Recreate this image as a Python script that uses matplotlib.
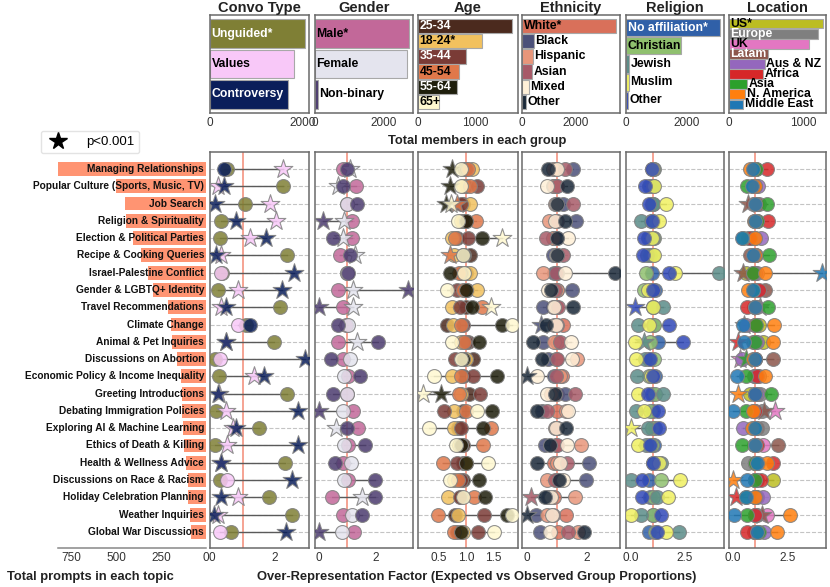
import matplotlib
matplotlib.use('Agg')
import matplotlib.pyplot as plt
from matplotlib.lines import Line2D

plt.rcParams['font.family'] = ['Liberation Sans', 'DejaVu Sans']

# ---------------- data ----------------
topics = ['Managing Relationships', 'Popular Culture (Sports, Music, TV)', 'Job Search',
          'Religion & Spirituality', 'Election & Political Parties', 'Recipe & Cooking Queries',
          'Israel-Palestine Conflict', 'Gender & LGBTQ+ Identity', 'Travel Recommendations',
          'Climate Change', 'Animal & Pet Inquiries', 'Discussions on Abortion',
          'Economic Policy & Income Inequality', 'Greeting Introductions',
          'Debating Immigration Policies', 'Exploring AI & Machine Learning',
          'Ethics of Death & Killing', 'Health & Wellness Advice', 'Discussions on Race & Racism',
          'Holiday Celebration Planning', 'Weather Inquiries', 'Global War Discussions']
prompt_counts = [822, 500, 450, 444, 405, 361, 322, 294, 211, 194, 189, 161, 139, 133, 133,
                 128, 122, 111, 100, 100, 89, 83]

# Convo type
convo_labels = ['Unguided*', 'Values', 'Controversy']
convo_counts = [2040, 1800, 1670]
convo_unguided = [0.49, 2.27, 1.06, 0.30, 0.26, 2.40, 0.32, 0.20, 2.16, 1.08, 1.98, 0.10, 0.23,
                  2.40, 0.14, 1.50, 0.10, 2.32, 0.26, 1.82, 2.57, 0.62]
convo_values = [2.27, 0.20, 1.84, 2.06, 1.22, 0.30, 0.30, 0.82, 0.28, 0.82, 0.46, 0.25, 1.33,
                0.22, 0.44, 0.68, 0.49, 0.28, 0.49, 0.82, 0.20, 0.25]
convo_controversy = [0.39, 0.39, 0.10, 0.78, 1.73, 0.13, 2.61, 2.25, 0.44, 1.22, 0.45, 2.97,
                     1.65, 0.18, 2.75, 0.78, 2.75, 0.28, 2.57, 0.28, 0.06, 2.35]
convo_sig = [[], [0, 1, 2, 3, 4, 5, 7, 8, 10, 12, 13, 14, 15, 16, 17, 19, 20],
             [1, 2, 3, 4, 5, 6, 7, 8, 10, 11, 12, 13, 14, 15, 16, 17, 18, 19, 20, 21]]

# Gender
gender_labels = ['Male*', 'Female', 'Non-binary']
gender_counts = [2725, 2670, 90]
gender_male = [0.85, 1.30, 1.00, 1.15, 1.15, 0.74, 1.00, 0.67, 0.84, 0.95, 0.67, 0.84, 1.02,
               1.00, 1.20, 1.38, 1.02, 0.84, 1.02, 0.46, 0.84, 1.22]
gender_female = [1.10, 0.67, 0.98, 0.89, 0.84, 1.26, 1.00, 1.20, 1.20, 1.02, 1.33, 1.09, 0.89,
                 1.00, 0.84, 0.60, 0.89, 1.12, 0.89, 1.50, 1.15, 0.80]
gender_nonbinary = [1.00, 0.84, 1.33, 0.13, 0.48, 1.09, 1.02, 3.12, 0.00, 0.67, 2.07, 0.42,
                    1.44, 0.48, 0.00, 1.00, 1.61, 0.56, 1.96, 1.96, 1.51, 0.00]
gender_sig = [[], [0, 1, 3, 4, 5, 7, 8, 10, 15, 19], [3, 7, 8, 14, 21]]

# Age
age_labels = ['25-34', '18-24*', '35-44', '45-54', '55-64', '65+']
age_counts = [1650, 1120, 840, 720, 680, 370]
age_25_34 = [0.97, 1.00, 0.95, 0.95, 0.84, 1.07, 1.00, 1.01, 1.00, 0.65, 1.04, 1.13, 0.95, 1.06,
             0.95, 0.85, 0.95, 0.95, 0.95, 0.90, 0.80, 0.84]
age_18_24 = [1.10, 0.95, 1.07, 0.90, 0.75, 0.78, 1.07, 1.20, 0.75, 0.76, 0.91, 1.00, 0.75, 0.90,
             0.78, 0.78, 0.87, 1.00, 0.78, 0.67, 0.85, 0.95]
age_35_44 = [1.00, 1.20, 0.90, 1.00, 1.04, 0.95, 0.90, 0.84, 0.89, 0.95, 1.00, 0.80, 1.13, 1.25,
             0.60, 0.91, 0.90, 0.84, 0.90, 0.89, 1.33, 1.22]
age_45_54 = [1.03, 1.07, 0.84, 1.18, 0.80, 0.71, 0.88, 0.95, 1.29, 0.90, 0.97, 0.93, 0.90, 0.88,
             1.00, 1.45, 1.31, 0.58, 0.85, 1.15, 0.49, 0.78]
age_55_64 = [0.75, 0.71, 0.64, 1.00, 1.29, 0.97, 0.71, 1.00, 1.11, 1.65, 1.24, 0.95, 1.56, 0.55,
             1.47, 1.31, 0.91, 1.00, 1.24, 1.35, 1.75, 0.90]
age_65 = [0.90, 0.91, 0.73, 0.85, 1.66, 0.95, 0.96, 0.65, 1.45, 1.83, 0.75, 0.90, 0.42, 0.22,
          1.20, 0.33, 0.82, 1.40, 0.71, 0.95, 1.83, 1.51]
age_sig = [[], [], [], [2, 5], [0, 1, 2, 13], [2, 4, 8, 13]]

# Ethnicity
eth_labels = ['White*', 'Black', 'Hispanic', 'Asian', 'Mixed', 'Other']
eth_counts = [3480, 440, 410, 370, 260, 150]
eth_white = [0.97, 0.95, 1.00, 0.95, 0.90, 1.00, 1.00, 1.00, 0.85, 1.20, 1.00, 0.95, 1.17, 1.00,
             1.00, 1.00, 0.95, 0.90, 1.00, 0.90, 1.30, 1.03]
eth_black = [1.53, 0.85, 1.20, 1.63, 1.00, 0.87, 0.90, 1.50, 0.53, 0.47, 0.53, 0.70, 0.90, 1.27,
             0.50, 1.00, 0.60, 2.07, 1.97, 0.70, 0.30, 0.43]
eth_hispanic = [0.85, 0.90, 0.93, 0.73, 0.87, 1.00, 0.53, 1.00, 0.95, 0.90, 0.90, 1.67, 1.10,
                0.80, 1.30, 0.93, 1.80, 1.00, 0.67, 1.60, 0.67, 1.70]
eth_asian = [1.27, 1.00, 1.53, 1.00, 0.63, 1.20, 0.95, 0.93, 1.03, 1.00, 1.10, 1.00, 0.95, 1.60,
             0.67, 0.95, 1.00, 1.33, 0.93, 0.13, 0.85, 1.37]
eth_mixed = [1.00, 0.67, 0.95, 0.93, 1.37, 0.95, 1.27, 0.70, 0.90, 0.95, 1.47, 1.50, 0.33, 0.67,
             1.37, 0.95, 1.33, 1.10, 1.20, 0.80, 0.83, 0.77]
eth_other = [0.70, 1.33, 1.00, 1.27, 1.00, 1.00, 2.93, 0.80, 1.53, 0.63, 0.20, 0.50, 0.00, 0.93,
             0.33, 1.30, 0.77, 0.33, 1.05, 0.60, 0.00, 1.90]
eth_sig = [[], [9], [], [19], [], [12, 20]]

# Religion
rel_labels = ['No affiliation*', 'Christian', 'Jewish', 'Muslim', 'Other']
rel_counts = [3100, 1800, 100, 100, 70]
rel_none = [0.95, 0.85, 0.95, 0.93, 0.80, 0.90, 0.97, 1.10, 1.00, 1.00, 1.24, 0.85, 1.10, 0.95,
            1.00, 1.10, 1.05, 1.00, 0.85, 0.90, 1.00, 0.85]
rel_christian = [1.00, 1.00, 1.00, 1.00, 1.05, 1.00, 0.69, 0.60, 1.00, 1.05, 0.90, 1.05, 0.83,
                 1.10, 0.90, 0.97, 0.95, 1.10, 1.37, 1.00, 1.00, 1.10]
rel_jewish = [1.05, 1.00, 1.00, 0.46, 1.00, 0.75, 4.07, 0.93, 1.47, 0.33, 0.60, 0.67, 0.28, 1.47,
              0.24, 0.80, 0.70, 1.40, 0.00, 1.20, 0.45, 2.22]
rel_muslim = [1.00, 1.05, 1.62, 1.30, 0.97, 1.05, 2.04, 0.80, 1.00, 0.85, 0.19, 0.22, 0.93, 0.32,
              0.60, 0.00, 0.34, 1.30, 2.27, 1.70, 0.00, 1.60]
rel_other = [0.97, 0.65, 0.83, 0.95, 0.60, 0.56, 1.77, 1.00, 0.19, 1.76, 2.40, 0.90, 1.00, 0.80,
             1.24, 1.30, 0.90, 1.00, 0.52, 0.52, 1.37, 1.20]
rel_sig = [[], [], [10], [15], [8]]

# Location
loc_labels = ['US*', 'Europe', 'UK', 'Latam', 'Aus & NZ', 'Africa', 'Asia', 'N. America',
              'Middle East']
loc_counts = [1270, 1200, 1080, 530, 480, 460, 240, 220, 190]
loc_us = [1.00, 1.00, 1.10, 1.00, 0.80, 1.00, 0.60, 1.00, 1.00, 1.20, 1.36, 1.00, 0.95, 0.77,
          1.00, 1.00, 0.95, 1.00, 1.82, 1.00, 1.00, 0.95]
loc_europe = [1.00, 0.90, 1.20, 1.10, 1.00, 1.05, 1.00, 1.00, 1.23, 0.50, 1.00, 1.00, 1.10, 1.23,
              1.30, 1.30, 1.00, 0.68, 1.00, 1.00, 1.10, 1.00]
loc_uk = [0.90, 0.95, 0.90, 1.05, 0.90, 0.95, 1.10, 1.00, 0.95, 1.00, 1.00, 0.32, 1.20, 1.00,
          1.91, 1.00, 1.36, 1.00, 1.00, 1.00, 1.55, 1.10]
loc_latam = [0.95, 1.00, 0.68, 1.00, 0.70, 0.77, 0.45, 1.45, 1.00, 1.00, 0.90, 1.82, 1.00, 1.00,
             1.41, 1.10, 2.05, 1.00, 1.10, 1.10, 1.30, 1.00]
loc_ausnz = [1.05, 1.14, 1.00, 1.10, 1.27, 1.00, 1.00, 1.10, 1.10, 0.60, 1.10, 0.40, 1.00, 1.10,
             0.90, 0.45, 1.00, 1.14, 1.00, 1.36, 1.00, 1.41]
loc_africa = [1.55, 0.95, 1.10, 1.60, 0.77, 1.00, 0.90, 1.20, 0.64, 1.00, 0.23, 1.00, 1.10, 1.00,
              1.00, 1.05, 1.10, 1.80, 1.27, 0.14, 1.00, 0.64]
loc_asia = [1.05, 0.64, 1.55, 1.10, 0.45, 1.64, 0.90, 0.90, 1.60, 1.05, 1.00, 0.60, 0.58, 1.73,
            0.60, 1.00, 0.41, 1.00, 1.00, 0.58, 0.64, 1.20]
loc_namerica = [0.77, 1.00, 1.00, 0.95, 1.00, 1.00, 1.45, 0.68, 1.00, 1.86, 1.80, 0.90, 1.45,
                0.23, 0.90, 0.85, 1.00, 1.55, 0.00, 1.00, 2.59, 2.00]
loc_mideast = [0.90, 0.85, 1.00, 1.00, 0.41, 0.90, 4.05, 0.90, 1.00, 0.45, 0.50, 1.00, 0.18, 1.00,
               0.00, 1.00, 1.00, 1.10, 0.64, 0.60, 0.05, 1.10]
loc_sig = [[], [8, 9], [11, 14], [2, 6, 14, 20], [], [10, 19], [11], [13, 18], [6]]

# ---------------- styles ----------------
convo_colors = ['#7F7F35', '#F8C8F8', '#0A1E5A']
convo_text = ['white', 'black', 'white']
convo_inside = [True, True, True]
gender_colors = ['#C26899', '#E4E4EE', '#4B3B6E']
gender_text = ['black', 'black', 'black']
gender_inside = [True, True, False]
age_colors = ['#4B2A1E', '#F2C15E', '#7A3B36', '#E0784A', '#1E1E0C', '#FFF8D0']
age_text = ['white', 'black', 'white', 'black', 'white', 'black']
age_inside = [True] * 6
eth_colors = ['#D9705A', '#4B5079', '#E8967A', '#A75A68', '#FFF0D8', '#1A2838']
eth_text = ['black'] * 6
eth_inside = [True, False, False, False, False, False]
rel_colors = ['#3060A8', '#8FC06E', '#5A8C88', '#F0F060', '#3048B8']
rel_text = ['white', 'black', 'black', 'black', 'black']
rel_inside = [True, True, False, False, False]
loc_colors = ['#BCBD22', '#7F7F7F', '#E377C2', '#8C564B', '#9467BD', '#D62728', '#2CA02C',
              '#FF7F0E', '#1F77B4']
loc_text = ['black', 'white', 'black', 'white', 'black', 'black', 'black', 'black', 'black']
loc_inside = [True, True, True, True, False, False, False, False, False]

panels = [
    dict(title='Convo Type', labels=convo_labels, counts=convo_counts, colors=convo_colors,
         tcolors=convo_text, inside=convo_inside,
         values=[convo_unguided, convo_values, convo_controversy],
         sig=convo_sig, bxlim=(0, 2130), bxticks=[0, 2000], dxlim=(-0.065, 3.1),
         dxticks=[0, 2], dxtl=['0', '2']),
    dict(title='Gender', labels=gender_labels, counts=gender_counts, colors=gender_colors,
         tcolors=gender_text, inside=gender_inside,
         values=[gender_male, gender_female, gender_nonbinary],
         sig=gender_sig, bxlim=(0, 2840), bxticks=[0, 2000], dxlim=(-0.14, 3.3),
         dxticks=[0, 2], dxtl=['0', '2']),
    dict(title='Age', labels=age_labels, counts=age_counts, colors=age_colors,
         tcolors=age_text, inside=age_inside,
         values=[age_25_34, age_18_24, age_35_44, age_45_54, age_55_64, age_65],
         sig=age_sig, bxlim=(0, 1754), bxticks=[0, 1000], dxlim=(0.127, 1.945),
         dxticks=[0.5, 1.0, 1.5], dxtl=['0.5', '1.0', '1.5']),
    dict(title='Ethnicity', labels=eth_labels, counts=eth_counts, colors=eth_colors,
         tcolors=eth_text, inside=eth_inside,
         values=[eth_white, eth_black, eth_hispanic, eth_asian, eth_mixed, eth_other],
         sig=eth_sig, bxlim=(0, 3630), bxticks=[0, 2000], dxlim=(-0.17, 3.1),
         dxticks=[0, 2], dxtl=['0', '2']),
    dict(title='Religion', labels=rel_labels, counts=rel_counts, colors=rel_colors,
         tcolors=rel_text, inside=rel_inside,
         values=[rel_none, rel_christian, rel_jewish, rel_muslim, rel_other],
         sig=rel_sig, bxlim=(0, 3233), bxticks=[0, 2000], dxlim=(-0.23, 4.3),
         dxticks=[0, 2.5], dxtl=['0.0', '2.5']),
    dict(title='Location', labels=loc_labels, counts=loc_counts, colors=loc_colors,
         tcolors=loc_text, inside=loc_inside,
         values=[loc_us, loc_europe, loc_uk, loc_latam, loc_ausnz, loc_africa,
                 loc_asia, loc_namerica, loc_mideast],
         sig=loc_sig, bxlim=(0, 1311), bxticks=[0, 1000], dxlim=(-0.18, 4.23),
         dxticks=[0, 2.5], dxtl=['0.0', '2.5']),
]

W, H = 830, 587
fig = plt.figure(figsize=(W / 100, H / 100), dpi=100)


def rect(x0, x1, y0, y1):
    return [x0 / W, 1 - y1 / H, (x1 - x0) / W, (y1 - y0) / H]


panel_x = [(210, 309), (315, 413), (418, 518), (522, 620), (626, 724), (729, 826)]
TOP = (15, 113)
BOT = (152, 548)
FRAME = '#6a6a6a'
TICKC = '#333333'
n_t = len(topics)
ylim_dots = (n_t - 1 + 0.93, -0.98)

for p, (x0, x1) in zip(panels, panel_x):
    # ---- top bar panel ----
    axb = fig.add_axes(rect(x0, x1, *TOP))
    n = len(p['labels'])
    ypos = list(range(n))
    axb.barh(ypos, p['counts'], height=0.95, color=p['colors'], edgecolor='#a8a8a8',
             linewidth=0.8)
    m = 0.04 * n
    axb.set_ylim(n - 0.5 + m, -0.5 - m)
    axb.set_xlim(*p['bxlim'])
    axb.set_xticks(p['bxticks'])
    axb.set_yticks([])
    axb.tick_params(axis='x', length=0, pad=3, labelsize=8.5, labelcolor=TICKC)
    for s in axb.spines.values():
        s.set_color(FRAME)
        s.set_linewidth(1.1)
    axb.set_title(p['title'], fontsize=10.5, fontweight='bold', pad=2, color='#222222')
    px_per_unit = axb.bbox.width / (p['bxlim'][1] - p['bxlim'][0])
    off = 1.5 / px_per_unit
    for i, (lab, c, tc, ins) in enumerate(zip(p['labels'], p['counts'], p['tcolors'],
                                              p['inside'])):
        xpos = off if ins else c + off
        axb.text(xpos, i, lab, ha='left', va='center', fontsize=8.8, fontweight='bold',
                 color=tc if ins else 'black')

    # ---- bottom dot panel ----
    axd = fig.add_axes(rect(x0, x1, *BOT))
    axd.set_xlim(*p['dxlim'])
    axd.set_ylim(*ylim_dots)
    axd.set_yticks(range(n_t))
    axd.set_yticklabels([])
    axd.tick_params(axis='y', length=0)
    axd.set_xticks(p['dxticks'])
    axd.set_xticklabels(p['dxtl'])
    axd.tick_params(axis='x', length=0, pad=3, labelsize=8.5, labelcolor=TICKC)
    axd.grid(axis='y', linestyle='--', color='#c4c4c4', linewidth=0.8)
    axd.set_axisbelow(True)
    for s in axd.spines.values():
        s.set_color(FRAME)
        s.set_linewidth(1.1)
    axd.axvline(1.0, color='#F59C8A', linewidth=1.3, zorder=1)
    vals = p['values']
    for ti in range(n_t):
        row = [v[ti] for v in vals]
        axd.plot([min(row), max(row)], [ti, ti], color='#5a5a5a', linewidth=1.0, zorder=2)
    for g, (v, col) in enumerate(zip(vals, p['colors'])):
        sig = set(p['sig'][g])
        cx = [v[i] for i in range(n_t) if i not in sig]
        cy = [i for i in range(n_t) if i not in sig]
        sx = [v[i] for i in range(n_t) if i in sig]
        sy = [i for i in range(n_t) if i in sig]
        axd.scatter(cx, cy, s=100, marker='o', color=col, edgecolor='#808080', linewidth=0.8,
                    alpha=0.85, zorder=3, clip_on=True)
        axd.scatter(sx, sy, s=200, marker='*', color=col, edgecolor='#808080', linewidth=0.8,
                    alpha=0.85, zorder=3, clip_on=True)

# ---- left prompts panel ----
axl = fig.add_axes(rect(58, 206, *BOT))
axl.barh(range(n_t), prompt_counts, height=0.8, color='#FF9472')
axl.set_xlim(822, 0)
axl.set_ylim(*ylim_dots)
axl.set_xticks([750, 500, 250, 0])
axl.set_yticks([])
axl.tick_params(axis='x', length=0, pad=3, labelsize=8.5, labelcolor=TICKC)
for k in ['top', 'left', 'right']:
    axl.spines[k].set_visible(False)
axl.spines['bottom'].set_color('#888888')
axl.spines['bottom'].set_linewidth(1.1)
for i, t in enumerate(topics):
    axl.text(11, i, t, ha='right', va='center', fontsize=7.3, fontweight='bold',
             color='#111111', zorder=4)

# ---- figure texts ----
fig.text(477 / W, 1 - 141 / H, 'Total members in each group', ha='center', va='center',
         fontsize=9.3, fontweight='bold', color='#222222')
fig.text(477 / W, 1 - 577 / H,
         'Over-Representation Factor (Expected vs Observed Group Proportions)',
         ha='center', va='center', fontsize=9.3, fontweight='bold', color='#222222')
fig.text(90 / W, 1 - 577 / H, 'Total prompts in each topic', ha='center', va='center',
         fontsize=9.3, fontweight='bold', color='#222222')

handle = Line2D([0], [0], marker='*', color='black', linestyle='none', markersize=13)
fig.legend([handle], ['p<0.001'], loc='center', bbox_to_anchor=(90 / W, 1 - 142 / H),
           fontsize=9.5, frameon=True, edgecolor='#dddddd', handletextpad=1.2,
           borderpad=0.4, handlelength=1.8)

fig.savefig('out.png', dpi=100)
